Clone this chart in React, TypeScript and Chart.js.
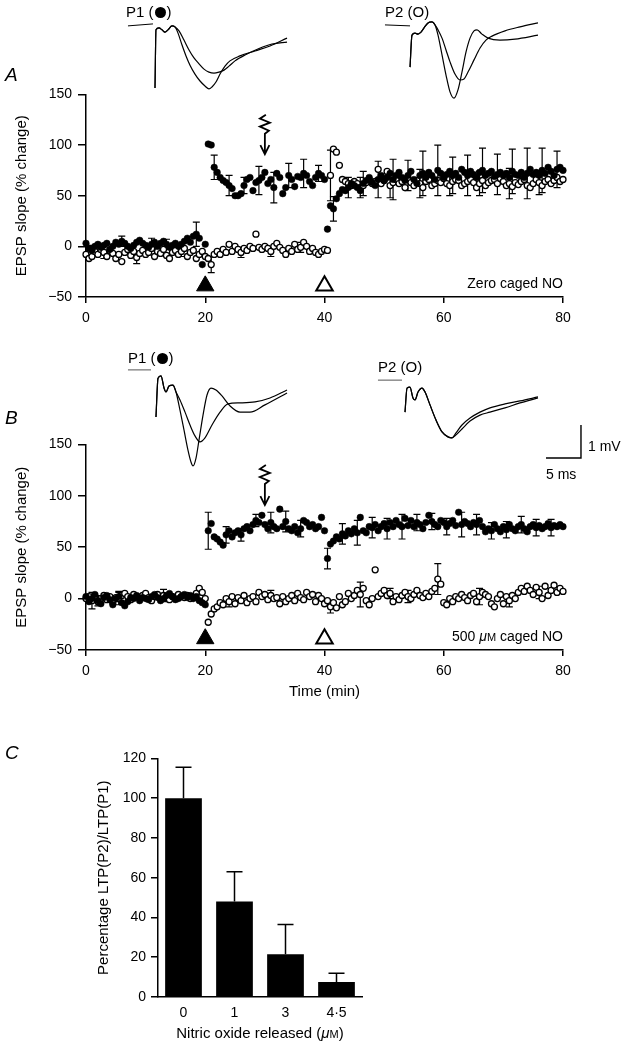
import React, { useEffect, useRef } from 'react';
import { Chart, registerables } from 'chart.js';
Chart.register(...registerables);

const FONT = '"Liberation Sans", Arial, Helvetica, sans-serif';
const STEP_MIN = 0.5; // sampling interval of the time-course (min)
const PX_PER_MS = 7;
const PX_PER_MV = 33;

// ---------- Panel A / B axes ----------
const TIME_TICKS = [0, 20, 40, 60, 80];
const EPSP_TICKS = [-50, 0, 50, 100, 150];
const TETANUS_TIMES = [20, 40];
const MARKER_LEVEL = -39;
const ARROW_TIME = 30;
const ARROW_TIP = 91;
const ARROW_TOP = 130;

// ---------- Panel A : zero caged NO (value every 0.5 min, 0..80) ----------
const A_P1 = [
  3, -2, -4, 0, 2, -1, 1, 3, -3, 0, 4, 2, 5, 3, 0, -2, 1, 4, 6, 3,
  1, -1, 2, 4, 0, 3, 5, 2, -1, 1, 3, 0, 2, 5, 8, 4, 10, 12, 8, -18,
  2, 101, 100, 78, 73, 68, 65, 63, 60, 57, 50, 50, 52, 60, 66, 68, 55, 63, 65, 68,
  73, 62, 66, 58, 72, 68, 52, 58, 70, 66, 59, 69, 68, 72, 70, 64, 60, 68, 72, 70,
  66, 17, 40, 37, 47, 52, 56, 55, 58, 62, 60, 58, 55, 62, 65, 68, 63, 60, 66, 70,
  65, 68, 72, 66, 70, 73, 68, 65, 70, 74, 66, 62, 70, 72, 68, 73, 70, 66, 75, 72,
  68, 71, 74, 70, 72, 68, 76, 73, 70, 74, 71, 68, 73, 75, 70, 72, 74, 69, 71, 73,
  70, 72, 68, 74, 71, 70, 73, 68, 72, 76, 71, 73, 70, 75, 72, 78, 74, 70, 76, 78,
  75,
];
const A_P2 = [
  -8, -12, -10, -5, -8, -3, -6, -10, -4, -7, -12, -8, -15, -6, -3, -9, -5, -11, -7, -4,
  -8, -6, -2, -10, -5, -7, -3, -9, -12, -6, -4, -8, -5, -2, -10, -6, -4, -12, -8, -5,
  -10, -12, -18, -8, -5, -8, -3, -6, 2, -5, 0, -3, -6, -2, -4, 0, -2, 12, -1, -3,
  0, -2, -5, 0, 3, -1, -4, -8, -2, -5, 2, -3, -1, 4, 0, -5, -2, -6, -8, -5,
  -3, -4, 70, 96, 93, 80, 66, 64, 62, 60, 64, 62, 58, 60, 63, 66, 62, 64, 76, 62,
  65, 74, 60, 63, 66, 62, 64, 58, 66, 63, 60, 65, 62, 58, 64, 66, 60, 62, 65, 63,
  67, 62, 60, 64, 66, 65, 60, 62, 64, 66, 63, 58, 62, 65, 60, 63, 65, 66, 62, 67,
  64, 60, 62, 59, 63, 61, 64, 66, 60, 58, 62, 66, 63, 60, 64, 66, 62, 65, 68, 64,
  66,
];
const A_P1_ERR_T = [1, 6, 11, 13.5, 18.5, 21.5, 24, 26.5, 29, 31.5, 34, 36.5, 39, 41.5, 44, 46.5, 49, 51.5, 54, 56.5, 59, 61.5, 64, 66.5, 69, 71.5, 74, 76.5, 79];
const A_P1_ERR = [5, 5, 6, 5, 12, 12, 10, 8, 14, 15, 12, 14, 8, 12, 10, 12, 18, 20, 15, 22, 25, 18, 20, 22, 20, 22, 25, 22, 18];
const A_P2_ERR_T = [3, 8.5, 16, 21, 26, 31, 36, 41, 46, 51, 56, 61, 66, 71, 76];
const A_P2_ERR = [6, 6, 5, 8, 5, 5, 5, 25, 10, 12, 14, 10, 12, 15, 12];

// ---------- Panel B : 500 uM caged NO ----------
const B_P1 = [
  2, -3, 0, 4, -2, -5, 1, 3, -1, -6, 0, 2, -4, -7, -3, 1, 0, 3, -2, 1,
  0, -1, 2, 4, 1, -2, 0, 3, 5, 2, -1, 0, 2, 4, 1, 3, 0, 2, -2, -4,
  -6, 66, 73, 60, 58, 55, 52, 62, 66, 60, 64, 66, 62, 68, 70, 66, 72, 76, 74, 81,
  72, 68, 74, 70, 68, 87, 70, 75, 68, 66, 70, 64, 68, 76, 74, 70, 72, 68, 70, 79,
  66, 39, 53, 56, 60, 58, 63, 61, 66, 63, 68, 64, 79, 66, 64, 70, 69, 72, 66, 70,
  73, 68, 74, 70, 76, 72, 70, 78, 71, 76, 70, 74, 72, 68, 74, 81, 75, 72, 70, 76,
  74, 70, 73, 76, 71, 84, 72, 75, 73, 70, 74, 72, 76, 70, 65, 68, 66, 72, 68, 65,
  70, 67, 72, 68, 66, 70, 72, 68, 65, 70, 72, 69, 71, 68, 70, 73, 69, 71, 70, 72,
  70,
];
const B_P2 = [
  0, 2, -2, 1, -3, 0, 3, -1, 2, -4, 1, 0, 3, 5, 2, -1, 4, 2, 0, 3,
  5, 1, -2, 2, 4, 0, 3, 1, -1, 2, 0, 4, 2, 1, 3, 0, 2, 5, 10, 6,
  0, -23, -15, -10, -8, -4, -6, 0, -3, 2, -5, 1, -2, 3, -4, 0, 2, -3, 6, 2,
  4, -1, 3, 0, 1, -5, 2, -3, 0, 3, -2, 5, 1, -1, 6, 2, 4, -3, 3, 0,
  -5, -2, -8, -4, -9, 2, -6, -3, 5, 0, 3, 8, 4, 10, -2, -6, 0, 28, 2, 5,
  8, 3, 5, -3, 2, -1, 3, 6, 2, 0, 4, 8, 3, 1, 5, 2, 7, 10, 19, 14,
  -4, -6, 0, -3, 2, 0, 4, 1, -2, 3, 5, -3, 2, 6, 4, 2, -5, -8, 0, 4,
  -5, 2, -2, 3, 0, 6, 10, 7, 12, 8, 4, 11, 6, 0, 12, 3, 8, 13, 6, 10,
  7,
];
const B_P1_ERR_T = [2, 5.5, 20.5, 23.5, 26, 28.5, 31, 33.5, 36, 40.5, 43, 45.5, 48, 50.5, 53, 55.5, 58, 60.5, 63, 65.5, 68, 70.5, 73, 75.5, 78];
const B_P1_ERR = [5, 5, 18, 8, 6, 6, 10, 10, 8, 10, 10, 12, 10, 10, 12, 8, 8, 8, 12, 10, 8, 8, 8, 8, 8];
const B_P2_ERR_T = [1, 5.5, 13, 24, 31, 41, 46, 51, 54, 59, 66, 71, 76];
const B_P2_ERR = [8, 6, 6, 5, 5, 6, 12, 5, 6, 15, 8, 6, 6];

// ---------- Panel C ----------
const NO_RELEASED = ['0', '1', '3', '4·5'];
const LTP_RATIO = [100, 48, 21.5, 7.5];
const LTP_RATIO_ERR = [15.5, 15, 15, 4.5];
const RATIO_TICKS = [0, 20, 40, 60, 80, 100, 120];

// ---------- EPSP traces (ms, mV relative to inset origin) ----------
const A1_BASE_MS = [1.14, 4.71];
const A1_BASE_MV = [-0.33, -0.27];
const A1_T1_MS = [5.0, 5.14, 5.57, 6.0, 6.43, 6.86, 7.43, 7.86, 8.29, 8.86, 9.43, 10.0, 10.71, 11.43, 12.14, 12.71, 13.14, 13.71, 14.29, 15.0, 15.71, 17.14, 19.29, 21.43, 23.86];
const A1_T1_MV = [-2.21, -0.45, -0.39, -0.45, -0.52, -0.45, -0.33, -0.36, -0.55, -0.91, -1.24, -1.52, -1.79, -2.0, -2.15, -2.24, -2.18, -2.03, -1.79, -1.55, -1.39, -1.24, -1.09, -0.94, -0.7];
const A1_T2_MS = [5.0, 5.14, 5.57, 6.0, 6.43, 6.86, 7.43, 7.86, 8.43, 9.14, 9.86, 10.57, 11.29, 12.0, 12.71, 13.43, 14.14, 14.86, 15.57, 16.43, 17.86, 19.71, 21.71, 23.86];
const A1_T2_MV = [-2.21, -0.45, -0.39, -0.45, -0.52, -0.45, -0.33, -0.36, -0.48, -0.76, -1.06, -1.3, -1.48, -1.64, -1.73, -1.76, -1.73, -1.67, -1.55, -1.39, -1.21, -1.03, -0.88, -0.82];

const A2_BASE_MS = [0.71, 4.29];
const A2_BASE_MV = [-0.3, -0.33];
const A2_T1_MS = [4.29, 4.57, 5.0, 5.43, 5.86, 6.29, 6.86, 7.43, 7.86, 8.29, 8.86, 9.43, 10.0, 10.57, 11.14, 11.71, 12.29, 12.86, 13.43, 13.86, 14.57, 15.43, 17.14, 19.29, 22.57];
const A2_T1_MV = [-1.58, -0.61, -0.55, -0.58, -0.52, -0.39, -0.24, -0.21, -0.3, -0.61, -1.21, -1.82, -2.33, -2.52, -2.27, -1.73, -1.12, -0.7, -0.48, -0.45, -0.58, -0.7, -0.76, -0.73, -0.61];
const A2_T2_MS = [4.29, 4.57, 5.0, 5.43, 5.86, 6.29, 6.86, 7.43, 7.86, 8.29, 8.86, 9.43, 10.0, 10.71, 11.43, 12.0, 12.57, 13.43, 14.29, 15.14, 16.0, 17.86, 20.0, 22.57];
const A2_T2_MV = [-1.58, -0.61, -0.55, -0.58, -0.52, -0.39, -0.24, -0.21, -0.3, -0.45, -0.7, -1.06, -1.42, -1.79, -1.97, -1.94, -1.73, -1.36, -1.0, -0.76, -0.64, -0.48, -0.36, -0.24];

const B1_BASE_MS = [1.14, 4.43];
const B1_BASE_MV = [-0.3, -0.3];
const B1_T1_MS = [5.14, 5.43, 5.86, 6.29, 6.57, 7.0, 7.57, 8.0, 8.57, 9.14, 9.71, 10.14, 10.43, 10.86, 11.29, 11.86, 12.43, 13.0, 13.71, 14.57, 15.71, 17.14, 18.57, 20.71, 23.86];
const B1_T1_MV = [-1.73, -0.55, -0.48, -0.85, -0.97, -0.79, -0.76, -0.97, -1.52, -2.12, -2.73, -3.09, -3.21, -2.97, -2.42, -1.67, -1.06, -0.85, -0.91, -1.09, -1.39, -1.58, -1.58, -1.36, -1.0];
const B1_T2_MS = [5.14, 5.43, 5.86, 6.29, 6.57, 7.0, 7.57, 8.0, 8.57, 9.29, 10.0, 10.71, 11.43, 12.14, 13.14, 14.29, 15.43, 17.14, 19.29, 21.43, 23.86];
const B1_T2_MV = [-1.73, -0.55, -0.48, -0.85, -0.97, -0.79, -0.76, -0.97, -1.21, -1.58, -1.97, -2.3, -2.48, -2.36, -1.97, -1.58, -1.33, -1.3, -1.27, -1.15, -0.91];

const B2_BASE_MS = [1.14, 4.57];
const B2_BASE_MV = [-0.61, -0.61];
const B2_T_MS = [5.0, 5.29, 5.71, 6.14, 6.43, 6.86, 7.43, 7.86, 8.57, 9.43, 10.29, 11.14, 11.71, 12.29, 13.14, 14.29, 15.71, 17.14, 19.29, 21.43, 24.0];
const B2_T1_MV = [-1.58, -0.85, -0.82, -1.15, -1.21, -0.97, -0.85, -0.97, -1.36, -1.82, -2.18, -2.33, -2.36, -2.21, -1.97, -1.76, -1.58, -1.45, -1.33, -1.24, -1.12];
const B2_T2_MV = [-1.58, -0.85, -0.82, -1.15, -1.21, -0.97, -0.85, -0.97, -1.36, -1.82, -2.18, -2.33, -2.36, -2.27, -2.09, -1.85, -1.67, -1.58, -1.45, -1.3, -1.15];
const SCALE_BAR_MS = 5;
const SCALE_BAR_MV = 1;
const SCALE_BAR_CORNER = [30.14, -2.97];

// ---------- helpers ----------
const tickFont = { family: FONT, size: 14 };
const minus = (v: any) => String(v).replace('-', '\u2212');

type Part = [string, string, number];

function drawParts(ctx: CanvasRenderingContext2D, parts: Part[], size: number, x: number, y: number, align: 'right' | 'center') {
  const fontFor = (p: Part) => `${p[1]} ${Math.round(size * p[2])}px ${FONT}`;
  let total = 0;
  parts.forEach(p => { ctx.font = fontFor(p); total += ctx.measureText(p[0]).width; });
  let cx = align === 'right' ? x - total : x - total / 2;
  ctx.textBaseline = 'alphabetic';
  ctx.textAlign = 'left';
  parts.forEach(p => {
    ctx.font = fontFor(p);
    ctx.fillText(p[0], cx, y + size * 0.36);
    cx += ctx.measureText(p[0]).width;
  });
}

function TimeCourse(props: {
  top: number; height: number; xH: number;
  p1: number[]; p2: number[];
  p1ErrT: number[]; p1Err: number[]; p2ErrT: number[]; p2Err: number[];
  note: Part[]; xTitle?: string;
}) {
  const ref = useRef<HTMLCanvasElement>(null);
  useEffect(() => {
    const { p1, p2, p1ErrT, p1Err, p2ErrT, p2Err, note, xTitle, xH } = props;
    const errPlugin = {
      id: 'errBars',
      beforeDatasetsDraw(chart: any) {
        const { ctx, scales: { x, y } } = chart;
        ctx.save();
        ctx.strokeStyle = '#000';
        ctx.lineWidth = 1.2;
        const cap = 3.5;
        const sets = [[p1ErrT, p1Err, p1], [p2ErrT, p2Err, p2]] as any[];
        sets.forEach(([ts, es, vals]) => {
          ts.forEach((t: number, k: number) => {
            const v = vals[Math.round(t / STEP_MIN)];
            const px = x.getPixelForValue(t);
            const hi = y.getPixelForValue(v + es[k]);
            const lo = y.getPixelForValue(v - es[k]);
            ctx.beginPath();
            ctx.moveTo(px, hi); ctx.lineTo(px, lo);
            ctx.moveTo(px - cap, hi); ctx.lineTo(px + cap, hi);
            ctx.moveTo(px - cap, lo); ctx.lineTo(px + cap, lo);
            ctx.stroke();
          });
        });
        ctx.restore();
      },
    };
    const annPlugin = {
      id: 'ann',
      afterDatasetsDraw(chart: any) {
        const { ctx, scales: { x, y }, chartArea } = chart;
        ctx.save();
        const ax = x.getPixelForValue(ARROW_TIME);
        const tip = y.getPixelForValue(ARROW_TIP);
        const topY = y.getPixelForValue(ARROW_TOP);
        ctx.strokeStyle = '#000';
        ctx.lineWidth = 1.8;
        ctx.beginPath();
        ctx.moveTo(ax + 1, topY);
        ctx.lineTo(ax - 5, topY + 4);
        ctx.lineTo(ax + 5, topY + 8);
        ctx.lineTo(ax - 5, topY + 12);
        ctx.lineTo(ax + 4, topY + 16);
        ctx.lineTo(ax, topY + 19);
        ctx.lineTo(ax, tip);
        ctx.moveTo(ax - 4.5, tip - 9);
        ctx.lineTo(ax, tip);
        ctx.lineTo(ax + 4.5, tip - 9);
        ctx.stroke();
        ctx.fillStyle = '#000';
        drawParts(ctx, note, 14, chartArea.right, chartArea.bottom - 14, 'right');
        ctx.restore();
      },
    };
    const chart = new Chart(ref.current as HTMLCanvasElement, {
      type: 'scatter',
      data: {
        datasets: [
          { label: 'P1', data: p1.map((v, i) => ({ x: i * STEP_MIN, y: v })), pointRadius: 3.3, pointBackgroundColor: '#000', pointBorderColor: '#000', pointBorderWidth: 0.5, clip: false, order: 1 } as any,
          { label: 'P2', data: p2.map((v, i) => ({ x: i * STEP_MIN, y: v })), pointRadius: 3, pointBackgroundColor: '#fff', pointBorderColor: '#000', pointBorderWidth: 1.3, clip: false, order: 2 },
          { label: 'P1 tetanus', data: [{ x: TETANUS_TIMES[0], y: MARKER_LEVEL }], pointStyle: 'triangle', pointRadius: 10, pointBackgroundColor: '#000', pointBorderColor: '#000', pointBorderWidth: 1, clip: false, order: 0 },
          { label: 'P2 tetanus', data: [{ x: TETANUS_TIMES[1], y: MARKER_LEVEL }], pointStyle: 'triangle', pointRadius: 9.5, pointBackgroundColor: '#fff', pointBorderColor: '#000', pointBorderWidth: 2, clip: false, order: 0 },
        ],
      },
      options: {
        animation: false,
        responsive: false,
        events: [],
        layout: { padding: { left: 13, right: 67, top: 11, bottom: 0 } },
        plugins: { legend: { display: false }, tooltip: { enabled: false } },
        scales: {
          x: {
            type: 'linear', min: 0, max: 80,
            afterBuildTicks: (s: any) => { s.ticks = TIME_TICKS.map(v => ({ value: v })); },
            ticks: { font: tickFont, color: '#000', padding: 7, maxRotation: 0, autoSkip: false },
            grid: { drawOnChartArea: false, drawTicks: true, tickLength: 6, color: '#000', lineWidth: 1.5 },
            border: { display: true, color: '#000', width: 1.5 },
            title: { display: !!xTitle, text: xTitle || '', color: '#000', font: { family: FONT, size: 15 }, padding: { top: 0, bottom: 9 } },
            afterFit: (s: any) => { s.height = xH; },
          },
          y: {
            type: 'linear', min: -50, max: 150,
            afterBuildTicks: (s: any) => { s.ticks = EPSP_TICKS.map(v => ({ value: v })); },
            ticks: { font: tickFont, color: '#000', padding: 6, callback: minus },
            grid: { drawOnChartArea: false, drawTicks: true, tickLength: 8, color: '#000', lineWidth: 1.5 },
            border: { display: true, color: '#000', width: 1.5 },
            title: { display: true, text: 'EPSP slope (% change)', color: '#000', font: { family: FONT, size: 15 }, padding: { top: 0, bottom: 0 } },
            afterFit: (s: any) => { s.width = 73; },
          },
        },
      } as any,
      plugins: [errPlugin, annPlugin],
    });
    return () => chart.destroy();
  }, []);
  return <canvas ref={ref} width={630} height={props.height} style={{ position: 'absolute', left: 0, top: props.top, width: 630, height: props.height }} />;
}

type Trace = { ms: number[]; mv: number[]; w?: number; color?: string; smooth?: boolean };

function Inset(props: { x: number; y: number; w: number; h: number; traces: Trace[] }) {
  const ref = useRef<HTMLCanvasElement>(null);
  useEffect(() => {
    const { w, h, traces } = props;
    const chart = new Chart(ref.current as HTMLCanvasElement, {
      type: 'line',
      data: {
        datasets: traces.map(t => ({
          data: t.ms.map((x, i) => ({ x, y: t.mv[i] })),
          borderColor: t.color || '#000',
          borderWidth: t.w || 1.2,
          pointRadius: 0,
          fill: false,
          tension: 0,
          cubicInterpolationMode: t.smooth === false ? 'default' : 'monotone',
          clip: false,
        })) as any,
      },
      options: {
        animation: false,
        responsive: false,
        events: [],
        layout: { padding: 0 },
        plugins: { legend: { display: false }, tooltip: { enabled: false } },
        scales: {
          x: { type: 'linear', display: false, min: 0, max: w / PX_PER_MS },
          y: { type: 'linear', display: false, min: -h / PX_PER_MV, max: 0 },
        },
      } as any,
    });
    return () => chart.destroy();
  }, []);
  return <canvas ref={ref} width={props.w} height={props.h} style={{ position: 'absolute', left: props.x, top: props.y, width: props.w, height: props.h }} />;
}

function Bars() {
  const ref = useRef<HTMLCanvasElement>(null);
  useEffect(() => {
    const errPlugin = {
      id: 'barErr',
      afterDatasetsDraw(chart: any) {
        const { ctx, scales: { y } } = chart;
        const meta = chart.getDatasetMeta(0);
        ctx.save();
        ctx.strokeStyle = '#000';
        ctx.lineWidth = 1.5;
        meta.data.forEach((bar: any, i: number) => {
          const top = y.getPixelForValue(LTP_RATIO[i]);
          const hi = y.getPixelForValue(LTP_RATIO[i] + LTP_RATIO_ERR[i]);
          ctx.beginPath();
          ctx.moveTo(bar.x, top); ctx.lineTo(bar.x, hi);
          ctx.moveTo(bar.x - 8, hi); ctx.lineTo(bar.x + 8, hi);
          ctx.stroke();
        });
        ctx.restore();
      },
      afterDraw(chart: any) {
        const { ctx, chartArea } = chart;
        ctx.save();
        ctx.fillStyle = '#000';
        drawParts(ctx, [['Nitric oxide released (', '', 1], ['μ', 'italic', 1], ['M', '', 0.75], [')', '', 1]], 15,
          (chartArea.left + chartArea.right) / 2, chartArea.bottom + 36, 'center');
        ctx.restore();
      },
    };
    const chart = new Chart(ref.current as HTMLCanvasElement, {
      type: 'bar',
      data: {
        labels: NO_RELEASED,
        datasets: [{ data: LTP_RATIO, backgroundColor: '#000', borderWidth: 0, barPercentage: 0.72, categoryPercentage: 1 }],
      },
      options: {
        animation: false,
        responsive: false,
        events: [],
        layout: { padding: { left: 95, right: 268, top: 12, bottom: 0 } },
        plugins: { legend: { display: false }, tooltip: { enabled: false } },
        scales: {
          x: {
            ticks: { font: tickFont, color: '#000', padding: 8 },
            grid: { drawOnChartArea: false, drawTicks: false },
            border: { display: true, color: '#000', width: 1.5 },
            afterFit: (s: any) => { s.height = 53; },
          },
          y: {
            min: 0, max: 120,
            afterBuildTicks: (s: any) => { s.ticks = RATIO_TICKS.map(v => ({ value: v })); },
            ticks: { font: tickFont, color: '#000', padding: 5 },
            grid: { drawOnChartArea: false, drawTicks: true, tickLength: 7, color: '#000', lineWidth: 1.5 },
            border: { display: true, color: '#000', width: 1.5 },
            title: { display: true, text: 'Percentage LTP(P2)/LTP(P1)', color: '#000', font: { family: FONT, size: 15 }, padding: { top: 0, bottom: 0 } },
            afterFit: (s: any) => { s.width = 63; },
          },
        },
      } as any,
      plugins: [errPlugin],
    });
    return () => chart.destroy();
  }, []);
  return <canvas ref={ref} width={630} height={305} style={{ position: 'absolute', left: 0, top: 745, width: 630, height: 305 }} />;
}

function Label(props: { x: number; y: number; size?: number; italic?: boolean; children: any }) {
  const size = props.size || 15;
  return (
    <div style={{ position: 'absolute', left: props.x, top: props.y - size * 0.6, fontFamily: FONT, fontSize: size, lineHeight: 1.2, fontStyle: props.italic ? 'italic' : 'normal', color: '#000', whiteSpace: 'nowrap' }}>
      {props.children}
    </div>
  );
}

const Dot = () => (
  <span style={{ display: 'inline-block', width: 11, height: 11, borderRadius: '50%', background: '#000', verticalAlign: '-1px', margin: '0 1px' }} />
);

export default function App() {
  const corner = SCALE_BAR_CORNER;
  return (
    <div style={{ position: 'absolute', left: 0, top: 0, width: 630, height: 1050, background: '#fff', overflow: 'hidden' }}>
      <TimeCourse top={80} height={260} xH={43} p1={A_P1} p2={A_P2} p1ErrT={A_P1_ERR_T} p1Err={A_P1_ERR} p2ErrT={A_P2_ERR_T} p2Err={A_P2_ERR} note={[['Zero caged NO', '', 1]]} />
      <TimeCourse top={430} height={280} xH={60} p1={B_P1} p2={B_P2} p1ErrT={B_P1_ERR_T} p1Err={B_P1_ERR} p2ErrT={B_P2_ERR_T} p2Err={B_P2_ERR}
        note={[['500 ', '', 1], ['μ', 'italic', 1], ['M', '', 0.75], [' caged NO', '', 1]]} xTitle="Time (min)" />
      <Bars />
      <Inset x={120} y={15} w={175} h={80} traces={[
        { ms: A1_BASE_MS, mv: A1_BASE_MV, w: 1, smooth: false },
        { ms: A1_T1_MS, mv: A1_T1_MV }, { ms: A1_T2_MS, mv: A1_T2_MV },
      ]} />
      <Inset x={380} y={15} w={170} h={95} traces={[
        { ms: A2_BASE_MS, mv: A2_BASE_MV, w: 1, smooth: false },
        { ms: A2_T1_MS, mv: A2_T1_MV }, { ms: A2_T2_MS, mv: A2_T2_MV },
      ]} />
      <Inset x={120} y={360} w={175} h={115} traces={[
        { ms: B1_BASE_MS, mv: B1_BASE_MV, w: 1, color: '#555', smooth: false },
        { ms: B1_T1_MS, mv: B1_T1_MV }, { ms: B1_T2_MS, mv: B1_T2_MV },
      ]} />
      <Inset x={370} y={360} w={225} h={110} traces={[
        { ms: B2_BASE_MS, mv: B2_BASE_MV, w: 1, color: '#555', smooth: false },
        { ms: B2_T_MS, mv: B2_T1_MV }, { ms: B2_T_MS, mv: B2_T2_MV },
        { ms: [corner[0] - SCALE_BAR_MS, corner[0], corner[0]], mv: [corner[1], corner[1], corner[1] + SCALE_BAR_MV], w: 1.4, smooth: false },
      ]} />
      <Label x={5} y={75} size={19} italic>A</Label>
      <Label x={5} y={418} size={19} italic>B</Label>
      <Label x={5} y={753} size={19} italic>C</Label>
      <Label x={126} y={12}>P1 (<Dot />)</Label>
      <Label x={385} y={12}>P2 (O)</Label>
      <Label x={128} y={358}>P1 (<Dot />)</Label>
      <Label x={378} y={367}>P2 (O)</Label>
      <Label x={588} y={446} size={14}>1 mV</Label>
      <Label x={546} y={474} size={14}>5 ms</Label>
    </div>
  );
}
